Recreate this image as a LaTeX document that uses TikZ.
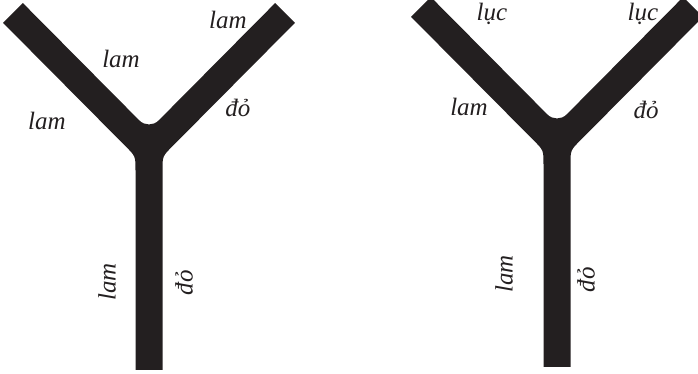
\documentclass[tikz,border=0pt]{standalone}
\usepackage{fontspec}
\setmainfont{Liberation Serif}
\usepackage{xcolor}
\definecolor{inkblack}{RGB}{35,31,32}

\begin{document}
\begin{tikzpicture}[
        x=0.5pt, y=-0.5pt,
        branch/.style={fill=inkblack},
        lbl/.style={font=\fontsize{12.5}{14}\selectfont\itshape, text=inkblack, inner sep=0pt}
    ]
        \useasboundingbox (0,0) rectangle (698,374);

        % Y-shaped branches (junction point at the origin of each scope)
        \foreach \px/\py/\len in {149/150/220, 557/144/223} {
            \begin{scope}[shift={(\px,\py)}]
                \fill[branch] (-145.9,-127.1) -- (-126.1,-146.9)
                    -- (-9.9,-29.8) .. controls (-4.3,-24.1) and (4.3,-24.1) .. (9.9,-29.8)
                    -- (126.1,-146.9) -- (145.9,-127.1)
                    -- (23.4,-3.7) .. controls (13.5,6.2) .. (13.5,20.2)
                    -- (13.5,\len) -- (-13.5,\len)
                    -- (-13.5,20.2) .. controls (-13.5,6.2) .. (-23.4,-3.7)
                    -- cycle;
            \end{scope}
        }

        % Labels, left branch
        \node[lbl] (armLtop) at (228,20) {lam};
        \node[lbl] (armLin) at (121,59) {lam};
        \node[lbl] (armLout) at (47,121) {lam};
        \node[lbl] (armRin) at (238,108) {đỏ};
        \node[lbl, rotate=90] (stemL) at (107,282) {lam};
        \node[lbl, rotate=90] (stemR) at (184,283) {đỏ};

        % Labels, right branch
        \node[lbl] (lucL) at (492,14) {lục};
        \node[lbl] (lucR) at (643,14) {lục};
        \node[lbl] (armLin2) at (469,107) {lam};
        \node[lbl] (armRin2) at (646,110) {đỏ};
        \node[lbl, rotate=90] (stemL2) at (504,274) {lam};
        \node[lbl, rotate=90] (stemR2) at (586,280) {đỏ};

    \end{tikzpicture}
\end{document}
